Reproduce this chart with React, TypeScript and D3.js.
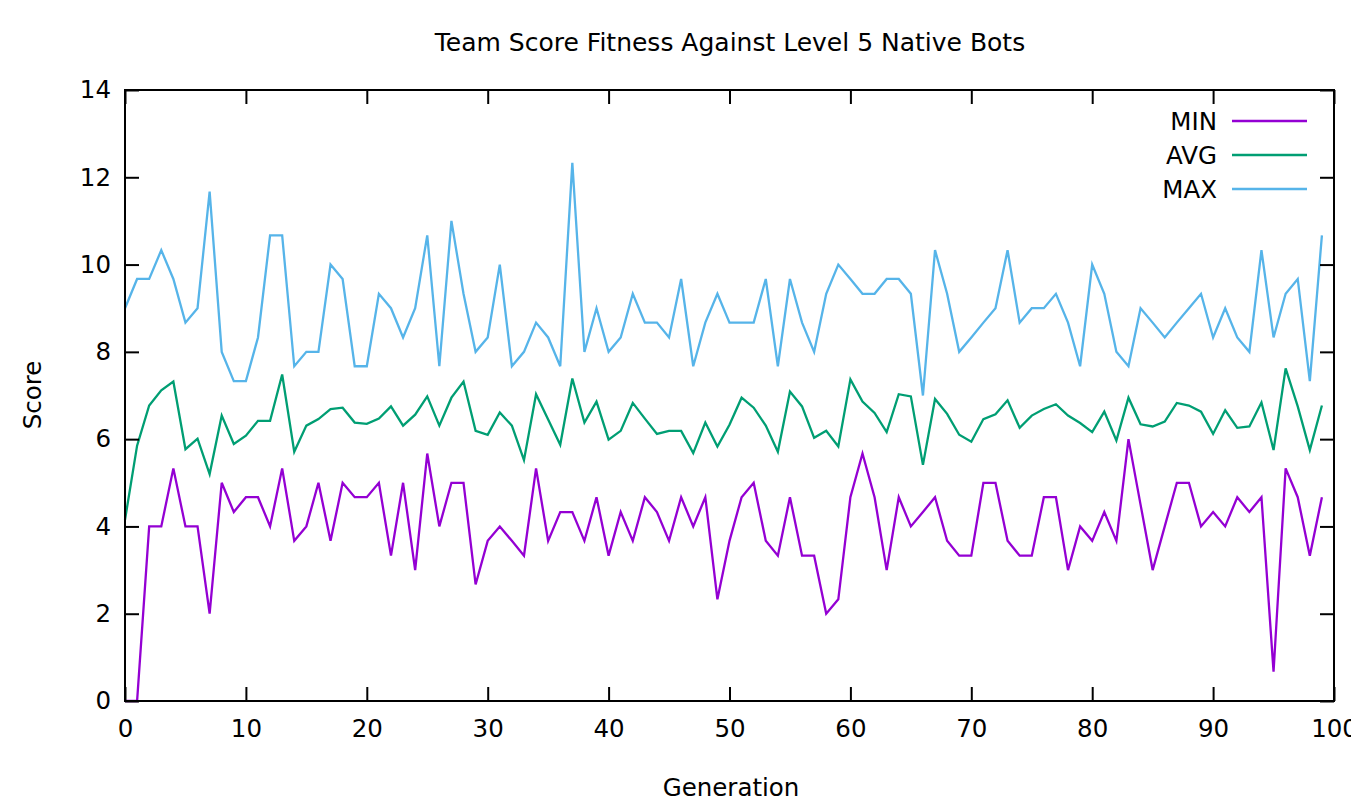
import { useLayoutEffect, useRef } from "react";
import * as d3 from "d3";

// per-generation scores
const minScores = [
  0, 0, 4, 4, 5.33, 4, 4, 2, 5, 4.33,
  4.67, 4.67, 4, 5.33, 3.67, 4, 5, 3.67, 5, 4.67,
  4.67, 5, 3.33, 5, 3, 5.67, 4, 5, 5, 2.67,
  3.67, 4, 3.67, 3.33, 5.33, 3.67, 4.33, 4.33, 3.67, 4.67,
  3.33, 4.33, 3.67, 4.67, 4.33, 3.67, 4.67, 4, 4.67, 2.33,
  3.67, 4.67, 5, 3.67, 3.33, 4.67, 3.33, 3.33, 2, 2.33,
  4.67, 5.67, 4.67, 3, 4.67, 4, 4.33, 4.67, 3.67, 3.33,
  3.33, 5, 5, 3.67, 3.33, 3.33, 4.67, 4.67, 3, 4,
  3.67, 4.33, 3.67, 6, 4.5, 3, 4, 5, 5, 4,
  4.33, 4, 4.67, 4.33, 4.67, 0.67, 5.33, 4.67, 3.33, 4.67,
];

const avgScores = [
  4.15, 5.85, 6.77, 7.12, 7.32, 5.77, 6.01, 5.2, 6.54, 5.89,
  6.08, 6.42, 6.42, 7.48, 5.71, 6.31, 6.46, 6.69, 6.72, 6.38,
  6.35, 6.47, 6.75, 6.31, 6.56, 6.98, 6.31, 6.95, 7.32, 6.19,
  6.1, 6.61, 6.31, 5.52, 7.03, 6.45, 5.87, 7.39, 6.38, 6.86,
  5.99, 6.19, 6.83, 6.47, 6.12, 6.19, 6.19, 5.68, 6.38, 5.83,
  6.33, 6.95, 6.72, 6.31, 5.71, 7.09, 6.75, 6.03, 6.19, 5.83,
  7.37, 6.86, 6.6, 6.16, 7.03, 6.98, 5.41, 6.92, 6.58, 6.1,
  5.94, 6.46, 6.57, 6.89, 6.26, 6.54, 6.69, 6.8, 6.54, 6.37,
  6.16, 6.63, 5.97, 6.95, 6.34, 6.29, 6.4, 6.83, 6.77, 6.63,
  6.12, 6.66, 6.26, 6.29, 6.84, 5.75, 7.62, 6.75, 5.75, 6.77,
];

const maxScores = [
  9, 9.67, 9.67, 10.33, 9.67, 8.67, 9, 11.67, 8, 7.33,
  7.33, 8.33, 10.67, 10.67, 7.67, 8, 8, 10, 9.67, 7.67,
  7.67, 9.33, 9, 8.33, 9, 10.67, 7.67, 11, 9.33, 8,
  8.33, 10, 7.67, 8, 8.67, 8.33, 7.67, 12.33, 8, 9,
  8, 8.33, 9.33, 8.67, 8.67, 8.33, 9.67, 7.67, 8.67, 9.33,
  8.67, 8.67, 8.67, 9.67, 7.67, 9.67, 8.67, 8, 9.33, 10,
  9.67, 9.33, 9.33, 9.67, 9.67, 9.33, 7, 10.33, 9.33, 8,
  8.33, 8.67, 9, 10.33, 8.67, 9, 9, 9.33, 8.67, 7.67,
  10, 9.33, 8, 7.67, 9, 8.67, 8.33, 8.67, 9, 9.33,
  8.33, 9, 8.33, 8, 10.33, 8.33, 9.33, 9.67, 7.33, 10.67,
];

const seriesNames = ["MIN", "AVG", "MAX"];
const seriesColors = ["#9400d3", "#009e73", "#56b4e9"];
const xTicks = [0, 10, 20, 30, 40, 50, 60, 70, 80, 90, 100];
const yTicks = [0, 2, 4, 6, 8, 10, 12, 14];

const width = 1351;
const height = 803;
const margin = { top: 90, right: 17, bottom: 102, left: 125 };
const font = "'DejaVu Sans', Verdana, sans-serif";

const App = () => {
  const svgRef = useRef<SVGSVGElement>(null);

  useLayoutEffect(() => {
    document.body.style.margin = "0";
    const svg = d3.select(svgRef.current);

    const x = d3
      .scaleLinear()
      .domain([0, 100])
      .range([margin.left, width - margin.right]);
    const y = d3
      .scaleLinear()
      .domain([0, 14])
      .range([height - margin.bottom, margin.top]);

    const line = d3
      .line<number>()
      .x((d, i) => x(i))
      .y((d) => y(d));

    const all = [minScores, avgScores, maxScores];

    svg
      .append("g")
      .selectAll("path")
      .data(all)
      .join("path")
      .attr("d", (d) => line(d))
      .attr("fill", "none")
      .attr("stroke", (d, i) => seriesColors[i])
      .attr("stroke-width", 2.3)
      .attr("stroke-linejoin", "miter");

    // inward ticks on all four sides, labels only bottom/left
    const styleAxis = (g) => {
      g.select(".domain").remove();
      g.selectAll("line").attr("stroke", "#000").attr("stroke-width", 2);
      g.selectAll("text")
        .attr("font-family", font)
        .attr("font-size", 24.5)
        .attr("fill", "#000");
    };

    svg
      .append("g")
      .attr("transform", `translate(0,${y(0)})`)
      .call(
        d3.axisBottom(x).tickValues(xTicks).tickSize(-14).tickSizeOuter(0).tickPadding(19)
      )
      .call(styleAxis);
    svg
      .append("g")
      .attr("transform", `translate(0,${y(14)})`)
      .call(d3.axisTop(x).tickValues(xTicks).tickSize(-14).tickFormat(() => ""))
      .call(styleAxis);
    svg
      .append("g")
      .attr("transform", `translate(${x(0)},0)`)
      .call(d3.axisLeft(y).tickValues(yTicks).tickSize(-14).tickPadding(14))
      .call(styleAxis);
    svg
      .append("g")
      .attr("transform", `translate(${x(100)},0)`)
      .call(d3.axisRight(y).tickValues(yTicks).tickSize(-14).tickFormat(() => ""))
      .call(styleAxis);

    svg
      .append("rect")
      .attr("x", x(0))
      .attr("y", y(14))
      .attr("width", x(100) - x(0))
      .attr("height", y(0) - y(14))
      .attr("fill", "none")
      .attr("stroke", "#000")
      .attr("stroke-width", 2);

    // legend, top right inside the plot
    const legend = svg
      .append("g")
      .selectAll("g")
      .data(seriesNames)
      .join("g")
      .attr("transform", (d, i) => `translate(1217,${121 + i * 34})`);
    legend
      .append("text")
      .attr("text-anchor", "end")
      .attr("dy", "0.36em")
      .attr("font-family", font)
      .attr("font-size", 24.5)
      .text((d) => d);
    legend
      .append("line")
      .attr("x1", 15)
      .attr("x2", 90)
      .attr("stroke", (d, i) => seriesColors[i])
      .attr("stroke-width", 2.3);

    svg
      .append("text")
      .attr("x", 730)
      .attr("y", 51)
      .attr("text-anchor", "middle")
      .attr("font-family", font)
      .attr("font-size", 25)
      .text("Team Score Fitness Against Level 5 Native Bots");

    svg
      .append("text")
      .attr("x", 731)
      .attr("y", 796)
      .attr("text-anchor", "middle")
      .attr("font-family", font)
      .attr("font-size", 24.5)
      .text("Generation");

    svg
      .append("text")
      .attr("transform", `translate(41,395) rotate(-90)`)
      .attr("text-anchor", "middle")
      .attr("font-family", font)
      .attr("font-size", 24.5)
      .text("Score");

    return () => {
      svg.selectAll("*").remove();
    };
  }, []);

  return (
    <svg
      ref={svgRef}
      width={width}
      height={height}
      style={{ display: "block", background: "#fff" }}
    ></svg>
  );
};

export default App;
